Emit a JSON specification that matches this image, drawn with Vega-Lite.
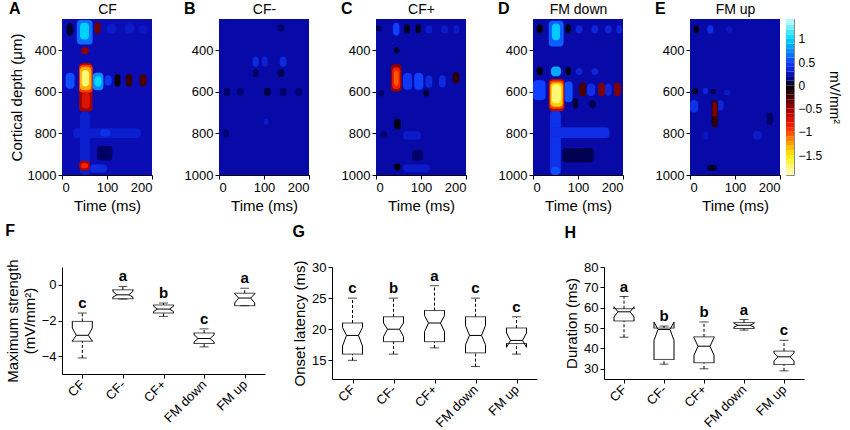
{
"$schema":"https://vega.github.io/schema/vega-lite/v6.json",
"padding":{"left":5,"top":1,"right":2,"bottom":2},
"config":{"font":"Liberation Sans","view":{"stroke":null},
"axis":{"grid":false,"domainColor":"#000","tickColor":"#000","labelColor":"#000","titleColor":"#000","labelFontSize":13,"titleFontSize":15,"titleFontWeight":"normal","tickSize":4,"labelPadding":2},
"title":{"fontSize":14,"fontWeight":"normal","color":"#000"}},
"datasets":{
"csd":[
{"p":"CF","k":"bg","t0":0,"t1":200,"d0":250,"d1":1000,"v":0.22},
{"p":"CF","k":"f","t0":10,"t1":25,"d0":270,"d1":330,"v":0.05},
{"p":"CF","k":"f","t0":33,"t1":68,"d0":255,"d1":372,"v":0.65},
{"p":"CF","k":"f","t0":40,"t1":60,"d0":268,"d1":348,"v":0.98},
{"p":"CF","k":"f","t0":72,"t1":86,"d0":265,"d1":322,"v":-0.35},
{"p":"CF","k":"f","t0":100,"t1":120,"d0":272,"d1":320,"v":0.3},
{"p":"CF","k":"f","t0":140,"t1":160,"d0":272,"d1":320,"v":0.3},
{"p":"CF","k":"f","t0":170,"t1":190,"d0":280,"d1":320,"v":0.28},
{"p":"CF","k":"f","t0":42,"t1":60,"d0":385,"d1":420,"v":-0.45},
{"p":"CF","k":"f","t0":8,"t1":28,"d0":510,"d1":585,"v":0.55},
{"p":"CF","k":"f","t0":38,"t1":68,"d0":462,"d1":695,"v":-0.5},
{"p":"CF","k":"f","t0":38,"t1":68,"d0":470,"d1":605,"v":-0.95},
{"p":"CF","k":"f","t0":40,"t1":65,"d0":480,"d1":592,"v":-1.3},
{"p":"CF","k":"f","t0":44,"t1":60,"d0":495,"d1":575,"v":-1.75},
{"p":"CF","k":"f","t0":44,"t1":62,"d0":605,"d1":680,"v":-0.75},
{"p":"CF","k":"f","t0":68,"t1":92,"d0":508,"d1":592,"v":0.75},
{"p":"CF","k":"f","t0":72,"t1":88,"d0":525,"d1":575,"v":1.0},
{"p":"CF","k":"f","t0":95,"t1":110,"d0":520,"d1":570,"v":0.45},
{"p":"CF","k":"f","t0":117,"t1":130,"d0":515,"d1":575,"v":-0.05},
{"p":"CF","k":"f","t0":142,"t1":156,"d0":515,"d1":575,"v":-0.2},
{"p":"CF","k":"f","t0":172,"t1":188,"d0":515,"d1":575,"v":-0.25},
{"p":"CF","k":"f","t0":25,"t1":175,"d0":775,"d1":822,"v":0.32},
{"p":"CF","k":"f","t0":85,"t1":108,"d0":780,"d1":815,"v":0.42},
{"p":"CF","k":"f","t0":40,"t1":62,"d0":695,"d1":1000,"v":0.32},
{"p":"CF","k":"f","t0":78,"t1":112,"d0":860,"d1":930,"v":0.1},
{"p":"CF","k":"f","t0":38,"t1":62,"d0":932,"d1":978,"v":-0.55},
{"p":"CF","k":"f","t0":42,"t1":58,"d0":942,"d1":968,"v":-0.9},
{"p":"CF","k":"f","t0":62,"t1":100,"d0":950,"d1":988,"v":0.38},
{"p":"CF-","k":"bg","t0":0,"t1":200,"d0":250,"d1":1000,"v":0.2},
{"p":"CF-","k":"f","t0":75,"t1":88,"d0":430,"d1":480,"v":0.38},
{"p":"CF-","k":"f","t0":95,"t1":108,"d0":430,"d1":480,"v":0.33},
{"p":"CF-","k":"f","t0":135,"t1":150,"d0":430,"d1":480,"v":0.38},
{"p":"CF-","k":"f","t0":75,"t1":88,"d0":490,"d1":530,"v":0.1},
{"p":"CF-","k":"f","t0":130,"t1":145,"d0":490,"d1":530,"v":0.08},
{"p":"CF-","k":"f","t0":10,"t1":25,"d0":580,"d1":620,"v":0.1},
{"p":"CF-","k":"f","t0":40,"t1":55,"d0":580,"d1":620,"v":0.12},
{"p":"CF-","k":"f","t0":100,"t1":115,"d0":580,"d1":620,"v":0.06},
{"p":"CF-","k":"f","t0":135,"t1":150,"d0":580,"d1":620,"v":0.1},
{"p":"CF-","k":"f","t0":170,"t1":185,"d0":580,"d1":620,"v":0.12},
{"p":"CF-","k":"f","t0":130,"t1":145,"d0":275,"d1":310,"v":0.1},
{"p":"CF-","k":"f","t0":8,"t1":22,"d0":780,"d1":820,"v":0.12},
{"p":"CF-","k":"f","t0":100,"t1":110,"d0":730,"d1":760,"v":0.3},
{"p":"CF+","k":"bg","t0":0,"t1":200,"d0":250,"d1":1000,"v":0.2},
{"p":"CF+","k":"f","t0":0,"t1":12,"d0":280,"d1":310,"v":0.08},
{"p":"CF+","k":"f","t0":62,"t1":75,"d0":275,"d1":320,"v":0.03},
{"p":"CF+","k":"f","t0":88,"t1":100,"d0":275,"d1":320,"v":0.03},
{"p":"CF+","k":"f","t0":38,"t1":52,"d0":268,"d1":330,"v":0.5},
{"p":"CF+","k":"f","t0":110,"t1":125,"d0":280,"d1":320,"v":0.3},
{"p":"CF+","k":"f","t0":145,"t1":160,"d0":280,"d1":320,"v":0.3},
{"p":"CF+","k":"f","t0":172,"t1":185,"d0":280,"d1":320,"v":0.3},
{"p":"CF+","k":"f","t0":40,"t1":52,"d0":385,"d1":415,"v":0.05},
{"p":"CF+","k":"f","t0":60,"t1":80,"d0":510,"d1":590,"v":0.45},
{"p":"CF+","k":"f","t0":85,"t1":105,"d0":510,"d1":590,"v":0.5},
{"p":"CF+","k":"f","t0":110,"t1":125,"d0":520,"d1":580,"v":0.38},
{"p":"CF+","k":"f","t0":140,"t1":155,"d0":520,"d1":580,"v":0.38},
{"p":"CF+","k":"f","t0":170,"t1":185,"d0":505,"d1":560,"v":-0.15},
{"p":"CF+","k":"f","t0":33,"t1":57,"d0":468,"d1":600,"v":-0.45},
{"p":"CF+","k":"f","t0":36,"t1":54,"d0":482,"d1":588,"v":-0.85},
{"p":"CF+","k":"f","t0":40,"t1":50,"d0":498,"d1":572,"v":-1.05},
{"p":"CF+","k":"f","t0":105,"t1":118,"d0":590,"d1":622,"v":0.05},
{"p":"CF+","k":"f","t0":5,"t1":18,"d0":590,"d1":622,"v":0.1},
{"p":"CF+","k":"f","t0":40,"t1":55,"d0":728,"d1":782,"v":0.02},
{"p":"CF+","k":"f","t0":10,"t1":25,"d0":790,"d1":822,"v":0.1},
{"p":"CF+","k":"f","t0":60,"t1":100,"d0":790,"d1":830,"v":0.3},
{"p":"CF+","k":"f","t0":80,"t1":105,"d0":880,"d1":930,"v":0.1},
{"p":"CF+","k":"f","t0":40,"t1":55,"d0":945,"d1":978,"v":0.0},
{"p":"CF+","k":"f","t0":60,"t1":120,"d0":950,"d1":985,"v":0.3},
{"p":"FM down","k":"bg","t0":0,"t1":200,"d0":250,"d1":1000,"v":0.2},
{"p":"FM down","k":"f","t0":8,"t1":22,"d0":275,"d1":320,"v":0.02},
{"p":"FM down","k":"f","t0":72,"t1":84,"d0":275,"d1":320,"v":0.02},
{"p":"FM down","k":"f","t0":35,"t1":68,"d0":258,"d1":382,"v":0.6},
{"p":"FM down","k":"f","t0":42,"t1":60,"d0":272,"d1":352,"v":0.95},
{"p":"FM down","k":"f","t0":95,"t1":110,"d0":280,"d1":320,"v":0.35},
{"p":"FM down","k":"f","t0":130,"t1":145,"d0":280,"d1":320,"v":0.35},
{"p":"FM down","k":"f","t0":160,"t1":175,"d0":280,"d1":320,"v":0.35},
{"p":"FM down","k":"f","t0":185,"t1":198,"d0":280,"d1":320,"v":0.35},
{"p":"FM down","k":"f","t0":8,"t1":22,"d0":480,"d1":520,"v":0.02},
{"p":"FM down","k":"f","t0":72,"t1":84,"d0":480,"d1":520,"v":0.02},
{"p":"FM down","k":"f","t0":40,"t1":62,"d0":478,"d1":525,"v":0.85},
{"p":"FM down","k":"f","t0":95,"t1":110,"d0":485,"d1":520,"v":0.35},
{"p":"FM down","k":"f","t0":130,"t1":145,"d0":485,"d1":520,"v":0.35},
{"p":"FM down","k":"f","t0":0,"t1":28,"d0":545,"d1":640,"v":0.5},
{"p":"FM down","k":"f","t0":38,"t1":62,"d0":690,"d1":1000,"v":0.42},
{"p":"FM down","k":"f","t0":38,"t1":170,"d0":770,"d1":822,"v":0.4},
{"p":"FM down","k":"f","t0":35,"t1":70,"d0":538,"d1":692,"v":-0.6},
{"p":"FM down","k":"f","t0":37,"t1":68,"d0":546,"d1":682,"v":-1.0},
{"p":"FM down","k":"f","t0":39,"t1":66,"d0":555,"d1":672,"v":-1.4},
{"p":"FM down","k":"f","t0":42,"t1":62,"d0":565,"d1":655,"v":-1.75},
{"p":"FM down","k":"f","t0":70,"t1":88,"d0":550,"d1":650,"v":0.55},
{"p":"FM down","k":"f","t0":120,"t1":138,"d0":560,"d1":620,"v":0.4},
{"p":"FM down","k":"f","t0":160,"t1":175,"d0":560,"d1":620,"v":0.35},
{"p":"FM down","k":"f","t0":102,"t1":118,"d0":555,"d1":622,"v":-0.25},
{"p":"FM down","k":"f","t0":145,"t1":160,"d0":555,"d1":622,"v":-0.4},
{"p":"FM down","k":"f","t0":180,"t1":195,"d0":555,"d1":622,"v":-0.4},
{"p":"FM down","k":"f","t0":88,"t1":100,"d0":630,"d1":680,"v":0.05},
{"p":"FM down","k":"f","t0":125,"t1":140,"d0":640,"d1":680,"v":0.08},
{"p":"FM down","k":"f","t0":65,"t1":135,"d0":870,"d1":940,"v":0.08},
{"p":"FM down","k":"f","t0":40,"t1":60,"d0":960,"d1":1000,"v":0.55},
{"p":"FM up","k":"bg","t0":0,"t1":200,"d0":250,"d1":1000,"v":0.2},
{"p":"FM up","k":"f","t0":8,"t1":20,"d0":280,"d1":320,"v":0.03},
{"p":"FM up","k":"f","t0":38,"t1":52,"d0":280,"d1":320,"v":0.4},
{"p":"FM up","k":"f","t0":80,"t1":95,"d0":285,"d1":315,"v":0.28},
{"p":"FM up","k":"f","t0":5,"t1":18,"d0":580,"d1":612,"v":0.03},
{"p":"FM up","k":"f","t0":45,"t1":58,"d0":585,"d1":612,"v":0.08},
{"p":"FM up","k":"f","t0":28,"t1":40,"d0":580,"d1":612,"v":0.35},
{"p":"FM up","k":"f","t0":75,"t1":90,"d0":590,"d1":615,"v":0.3},
{"p":"FM up","k":"f","t0":0,"t1":18,"d0":640,"d1":700,"v":0.42},
{"p":"FM up","k":"f","t0":60,"t1":75,"d0":640,"d1":690,"v":0.35},
{"p":"FM up","k":"f","t0":48,"t1":62,"d0":640,"d1":770,"v":-0.15},
{"p":"FM up","k":"f","t0":50,"t1":60,"d0":650,"d1":720,"v":-0.4},
{"p":"FM up","k":"f","t0":170,"t1":185,"d0":700,"d1":760,"v":0.1},
{"p":"FM up","k":"f","t0":38,"t1":60,"d0":950,"d1":980,"v":0.05},
{"p":"FM up","k":"f","t0":140,"t1":160,"d0":790,"d1":830,"v":0.3},
{"p":"FM up","k":"f","t0":30,"t1":40,"d0":790,"d1":830,"v":0.28}
],
"cbar":[
{"lo":-1.93,"hi":-1.8,"v":-1.86},{"lo":-1.8,"hi":-1.7,"v":-1.75},{"lo":-1.7,"hi":-1.6,"v":-1.65},{"lo":-1.6,"hi":-1.5,"v":-1.55},{"lo":-1.5,"hi":-1.4,"v":-1.45},{"lo":-1.4,"hi":-1.3,"v":-1.35},{"lo":-1.3,"hi":-1.2,"v":-1.25},{"lo":-1.2,"hi":-1.1,"v":-1.15},{"lo":-1.1,"hi":-1.0,"v":-1.05},{"lo":-1.0,"hi":-0.9,"v":-0.95},{"lo":-0.9,"hi":-0.8,"v":-0.85},{"lo":-0.8,"hi":-0.7,"v":-0.75},{"lo":-0.7,"hi":-0.6,"v":-0.65},{"lo":-0.6,"hi":-0.5,"v":-0.55},{"lo":-0.5,"hi":-0.4,"v":-0.45},{"lo":-0.4,"hi":-0.3,"v":-0.35},{"lo":-0.3,"hi":-0.2,"v":-0.25},{"lo":-0.2,"hi":-0.1,"v":-0.15},{"lo":-0.1,"hi":0,"v":-0.05},{"lo":0,"hi":0.1,"v":0.05},{"lo":0.1,"hi":0.2,"v":0.15},{"lo":0.2,"hi":0.3,"v":0.25},{"lo":0.3,"hi":0.4,"v":0.35},{"lo":0.4,"hi":0.5,"v":0.45},{"lo":0.5,"hi":0.6,"v":0.55},{"lo":0.6,"hi":0.7,"v":0.65},{"lo":0.7,"hi":0.8,"v":0.75},{"lo":0.8,"hi":0.9,"v":0.85},{"lo":0.9,"hi":1.0,"v":0.95},{"lo":1.0,"hi":1.1,"v":1.05},{"lo":1.1,"hi":1.2,"v":1.15},{"lo":1.2,"hi":1.3,"v":1.25},{"lo":1.3,"hi":1.43,"v":1.37}
],
"box":[
{"m":"F","cond":"CF","wlo":-4.1,"q1":-3.16,"nlo":-3.15,"med":-2.83,"nhi":-2.42,"q3":-2.05,"whi":-1.58,"sig":"c"},
{"m":"F","cond":"CF-","wlo":-0.8,"q1":-0.78,"nlo":-0.69,"med":-0.56,"nhi":-0.37,"q3":-0.28,"whi":-0.09,"sig":"a"},
{"m":"F","cond":"CF+","wlo":-1.77,"q1":-1.58,"nlo":-1.5,"med":-1.36,"nhi":-1.2,"q3":-1.13,"whi":-1.02,"sig":"b"},
{"m":"F","cond":"FM down","wlo":-3.48,"q1":-3.29,"nlo":-3.2,"med":-3.01,"nhi":-2.8,"q3":-2.7,"whi":-2.47,"sig":"c"},
{"m":"F","cond":"FM up","wlo":-1.17,"q1":-1.17,"nlo":-1.02,"med":-0.74,"nhi":-0.5,"q3":-0.47,"whi":-0.19,"sig":"a"},
{"m":"G","cond":"CF","wlo":15,"q1":16,"nlo":17.3,"med":19,"nhi":20.3,"q3":21,"whi":25,"sig":"c"},
{"m":"G","cond":"CF-","wlo":16,"q1":18,"nlo":18.8,"med":20,"nhi":21,"q3":22,"whi":25,"sig":"b"},
{"m":"G","cond":"CF+","wlo":17,"q1":18,"nlo":19.6,"med":21,"nhi":22.2,"q3":23,"whi":27,"sig":"a"},
{"m":"G","cond":"FM down","wlo":14,"q1":16.2,"nlo":17.5,"med":19,"nhi":20.6,"q3":22,"whi":25,"sig":"c"},
{"m":"G","cond":"FM up","wlo":16,"q1":17.7,"nlo":17.1,"med":18.2,"nhi":19.4,"q3":20.2,"whi":22,"sig":"c"},
{"m":"H","cond":"CF","wlo":45.5,"q1":53.5,"nlo":55.5,"med":58,"nhi":60.5,"q3":59.5,"whi":65.5,"sig":"a"},
{"m":"H","cond":"CF-","wlo":32.3,"q1":34.6,"nlo":44,"med":49.3,"nhi":53,"q3":50,"whi":51,"sig":"b"},
{"m":"H","cond":"CF+","wlo":30,"q1":33,"nlo":36.7,"med":41.1,"nhi":45.3,"q3":45.7,"whi":53,"sig":"b"},
{"m":"H","cond":"FM down","wlo":49,"q1":49.8,"nlo":50.5,"med":51.4,"nhi":52.3,"q3":52.7,"whi":54.2,"sig":"a"},
{"m":"H","cond":"FM up","wlo":29,"q1":32.1,"nlo":33.9,"med":35.9,"nhi":37.8,"q3":38.7,"whi":44,"sig":"c"}
]
},
"vconcat":[
{"hconcat":[
 {"hconcat":[
  {"title":{"text":"A","anchor":"start","frame":"bounds","fontWeight":"bold","fontSize":16,"offset":0,"dy":15},
   "width":90,"height":156,"data":{"name":"csd"},"transform":[{"filter":"datum.p === 'CF'"}],
   "encoding":{"x2":{"field":"t1"},
     "y":{"field":"d0","type":"quantitative","scale":{"domain":[250,1000],"reverse":true,"nice":false,"zero":false},"axis":{"values":[400,600,800,1000],"format":"d","title":"Cortical depth (μm)","titlePadding":3}},"y2":{"field":"d1"},
     "color":{"field":"v","type":"quantitative","scale":{"type":"linear","domain":[-1.93,-1.5,-1.2,-0.9,-0.5,-0.2,0,0.1,0.22,0.5,1.0,1.43],"range":["#ffffc8","#ffee00","#ff9000","#ff2000","#a00000","#3a0000","#000000","#000066","#0a0cb4","#1040ff","#00d8ff","#c8ffff"],"interpolate":"rgb","clamp":true},"legend":null}},
   "layer":[
    {"transform":[{"filter":"datum.k === 'bg'"}],"mark":{"type":"rect"},"encoding":{"x":{"field":"t0","type":"quantitative","scale":{"domain":[0,200],"nice":false},"axis":{"values":[0,100,200],"title":"Time (ms)"}}}},
    {"transform":[{"filter":"datum.k !== 'bg'"}],"mark":{"type":"rect","cornerRadius":3.5},"encoding":{"x":{"field":"t0","type":"quantitative","scale":{"domain":[0,200],"nice":false},"axis":{"orient":"top","title":"CF","labels":false,"ticks":false,"domain":false,"titlePadding":3,"titleFontSize":14}}}}],
   "resolve":{"axis":{"x":"independent"}}},
  {"title":{"text":"B","anchor":"start","frame":"bounds","fontWeight":"bold","fontSize":16,"offset":0,"dy":15},
   "width":90,"height":156,"data":{"name":"csd"},"transform":[{"filter":"datum.p === 'CF-'"}],
   "encoding":{"x2":{"field":"t1"},
     "y":{"field":"d0","type":"quantitative","scale":{"domain":[250,1000],"reverse":true,"nice":false,"zero":false},"axis":{"values":[400,600,800,1000],"format":"d","title":null}},"y2":{"field":"d1"},
     "color":{"field":"v","type":"quantitative","scale":{"type":"linear","domain":[-1.93,-1.5,-1.2,-0.9,-0.5,-0.2,0,0.1,0.22,0.5,1.0,1.43],"range":["#ffffc8","#ffee00","#ff9000","#ff2000","#a00000","#3a0000","#000000","#000066","#0a0cb4","#1040ff","#00d8ff","#c8ffff"],"interpolate":"rgb","clamp":true},"legend":null}},
   "layer":[
    {"transform":[{"filter":"datum.k === 'bg'"}],"mark":{"type":"rect"},"encoding":{"x":{"field":"t0","type":"quantitative","scale":{"domain":[0,200],"nice":false},"axis":{"values":[0,100,200],"title":"Time (ms)"}}}},
    {"transform":[{"filter":"datum.k !== 'bg'"}],"mark":{"type":"rect","cornerRadius":3.5},"encoding":{"x":{"field":"t0","type":"quantitative","scale":{"domain":[0,200],"nice":false},"axis":{"orient":"top","title":"CF-","labels":false,"ticks":false,"domain":false,"titlePadding":3,"titleFontSize":14}}}}],
   "resolve":{"axis":{"x":"independent"}}},
  {"title":{"text":"C","anchor":"start","frame":"bounds","fontWeight":"bold","fontSize":16,"offset":0,"dy":15},
   "width":90,"height":156,"data":{"name":"csd"},"transform":[{"filter":"datum.p === 'CF+'"}],
   "encoding":{"x2":{"field":"t1"},
     "y":{"field":"d0","type":"quantitative","scale":{"domain":[250,1000],"reverse":true,"nice":false,"zero":false},"axis":{"values":[400,600,800,1000],"format":"d","title":null}},"y2":{"field":"d1"},
     "color":{"field":"v","type":"quantitative","scale":{"type":"linear","domain":[-1.93,-1.5,-1.2,-0.9,-0.5,-0.2,0,0.1,0.22,0.5,1.0,1.43],"range":["#ffffc8","#ffee00","#ff9000","#ff2000","#a00000","#3a0000","#000000","#000066","#0a0cb4","#1040ff","#00d8ff","#c8ffff"],"interpolate":"rgb","clamp":true},"legend":null}},
   "layer":[
    {"transform":[{"filter":"datum.k === 'bg'"}],"mark":{"type":"rect"},"encoding":{"x":{"field":"t0","type":"quantitative","scale":{"domain":[0,200],"nice":false},"axis":{"values":[0,100,200],"title":"Time (ms)"}}}},
    {"transform":[{"filter":"datum.k !== 'bg'"}],"mark":{"type":"rect","cornerRadius":3.5},"encoding":{"x":{"field":"t0","type":"quantitative","scale":{"domain":[0,200],"nice":false},"axis":{"orient":"top","title":"CF+","labels":false,"ticks":false,"domain":false,"titlePadding":3,"titleFontSize":14}}}}],
   "resolve":{"axis":{"x":"independent"}}},
  {"title":{"text":"D","anchor":"start","frame":"bounds","fontWeight":"bold","fontSize":16,"offset":0,"dy":15},
   "width":90,"height":156,"data":{"name":"csd"},"transform":[{"filter":"datum.p === 'FM down'"}],
   "encoding":{"x2":{"field":"t1"},
     "y":{"field":"d0","type":"quantitative","scale":{"domain":[250,1000],"reverse":true,"nice":false,"zero":false},"axis":{"values":[400,600,800,1000],"format":"d","title":null}},"y2":{"field":"d1"},
     "color":{"field":"v","type":"quantitative","scale":{"type":"linear","domain":[-1.93,-1.5,-1.2,-0.9,-0.5,-0.2,0,0.1,0.22,0.5,1.0,1.43],"range":["#ffffc8","#ffee00","#ff9000","#ff2000","#a00000","#3a0000","#000000","#000066","#0a0cb4","#1040ff","#00d8ff","#c8ffff"],"interpolate":"rgb","clamp":true},"legend":null}},
   "layer":[
    {"transform":[{"filter":"datum.k === 'bg'"}],"mark":{"type":"rect"},"encoding":{"x":{"field":"t0","type":"quantitative","scale":{"domain":[0,200],"nice":false},"axis":{"values":[0,100,200],"title":"Time (ms)"}}}},
    {"transform":[{"filter":"datum.k !== 'bg'"}],"mark":{"type":"rect","cornerRadius":3.5},"encoding":{"x":{"field":"t0","type":"quantitative","scale":{"domain":[0,200],"nice":false},"axis":{"orient":"top","title":"FM down","labels":false,"ticks":false,"domain":false,"titlePadding":3,"titleFontSize":14}}}}],
   "resolve":{"axis":{"x":"independent"}}},
  {"title":{"text":"E","anchor":"start","frame":"bounds","fontWeight":"bold","fontSize":16,"offset":0,"dy":15},
   "width":90,"height":156,"data":{"name":"csd"},"transform":[{"filter":"datum.p === 'FM up'"}],
   "encoding":{"x2":{"field":"t1"},
     "y":{"field":"d0","type":"quantitative","scale":{"domain":[250,1000],"reverse":true,"nice":false,"zero":false},"axis":{"values":[400,600,800,1000],"format":"d","title":null}},"y2":{"field":"d1"},
     "color":{"field":"v","type":"quantitative","scale":{"type":"linear","domain":[-1.93,-1.5,-1.2,-0.9,-0.5,-0.2,0,0.1,0.22,0.5,1.0,1.43],"range":["#ffffc8","#ffee00","#ff9000","#ff2000","#a00000","#3a0000","#000000","#000066","#0a0cb4","#1040ff","#00d8ff","#c8ffff"],"interpolate":"rgb","clamp":true},"legend":null}},
   "layer":[
    {"transform":[{"filter":"datum.k === 'bg'"}],"mark":{"type":"rect"},"encoding":{"x":{"field":"t0","type":"quantitative","scale":{"domain":[0,200],"nice":false},"axis":{"values":[0,100,200],"title":"Time (ms)"}}}},
    {"transform":[{"filter":"datum.k !== 'bg'"}],"mark":{"type":"rect","cornerRadius":3.5},"encoding":{"x":{"field":"t0","type":"quantitative","scale":{"domain":[0,200],"nice":false},"axis":{"orient":"top","title":"FM up","labels":false,"ticks":false,"domain":false,"titlePadding":3,"titleFontSize":14}}}}],
   "resolve":{"axis":{"x":"independent"}}}
 ],"spacing":67,"bounds":"flush"},
 {"width":8,"height":156,"view":{"stroke":"#888"},"data":{"name":"cbar"},"mark":{"type":"rect"},
  "encoding":{"y":{"field":"lo","type":"quantitative","scale":{"domain":[-1.93,1.43],"nice":false,"zero":false},"axis":{"orient":"right","values":[-1.5,-1,-0.5,0,0.5,1],"format":"~g","title":"mV/mm²","tickSize":0,"domain":false,"labelPadding":4,"titlePadding":5,"labelFontSize":12,"titleFontSize":14}},"y2":{"field":"hi"},
   "color":{"field":"v","type":"quantitative","scale":{"type":"linear","domain":[-1.93,-1.5,-1.2,-0.9,-0.5,-0.2,0,0.1,0.22,0.5,1.0,1.43],"range":["#ffffc8","#ffee00","#ff9000","#ff2000","#a00000","#3a0000","#000000","#000066","#0a0cb4","#1040ff","#00d8ff","#c8ffff"],"interpolate":"rgb","clamp":true},"legend":null}}}
],"spacing":4},
{"hconcat":[
 {"title":{"text":"F","anchor":"start","frame":"bounds","fontWeight":"bold","fontSize":16,"offset":20},
  "width":203,"height":107,"data":{"name":"box"},"transform":[{"filter":"datum.m === 'F'"}],
  "encoding":{"x":{"field":"cond","type":"nominal","sort":["CF","CF-","CF+","FM down","FM up"],"scale":{"type":"point","padding":0.5},"axis":{"title":null,"labelAngle":-45,"labelAlign":"right","labelBaseline":"middle","labelFontSize":13,"labelPadding":4}}},
  "layer":[
   {"mark":{"type":"rule","strokeDash":[3,2],"color":"#000"},"encoding":{"y":{"field":"wlo","type":"quantitative","scale":{"domain":[-5,1],"nice":false,"zero":false},"axis":{"title":["Maximum strength","(mV/mm²)"],"values":[-4,-2,0]}},"y2":{"field":"q1"}}},
   {"mark":{"type":"rule","strokeDash":[3,2],"color":"#000"},"encoding":{"y":{"field":"q3","type":"quantitative","scale":{"domain":[-5,1],"nice":false,"zero":false},"axis":{"title":["Maximum strength","(mV/mm²)"],"values":[-4,-2,0]}},"y2":{"field":"whi"}}},
   {"transform":[{"fold":["wlo","whi"],"as":["s","val"]}],"mark":{"type":"tick","size":9,"thickness":1,"color":"#000"},"encoding":{"y":{"field":"val","type":"quantitative","scale":{"domain":[-5,1],"nice":false,"zero":false},"axis":{"title":["Maximum strength","(mV/mm²)"],"values":[-4,-2,0]}}}},
   {"transform":[{"fold":["q1","q3"],"as":["s","val"]}],"mark":{"type":"tick","size":21,"thickness":1,"color":"#000"},"encoding":{"y":{"field":"val","type":"quantitative","scale":{"domain":[-5,1],"nice":false,"zero":false},"axis":{"title":["Maximum strength","(mV/mm²)"],"values":[-4,-2,0]}}}},
   {"mark":{"type":"rule","xOffset":-10,"color":"#000"},"encoding":{"y":{"field":"q1","type":"quantitative","scale":{"domain":[-5,1],"nice":false,"zero":false},"axis":{"title":["Maximum strength","(mV/mm²)"],"values":[-4,-2,0]}},"y2":{"field":"nlo"}}},
   {"mark":{"type":"rule","xOffset":-10,"color":"#000"},"encoding":{"y":{"field":"nhi","type":"quantitative","scale":{"domain":[-5,1],"nice":false,"zero":false},"axis":{"title":["Maximum strength","(mV/mm²)"],"values":[-4,-2,0]}},"y2":{"field":"q3"}}},
   {"mark":{"type":"rule","xOffset":10,"color":"#000"},"encoding":{"y":{"field":"q1","type":"quantitative","scale":{"domain":[-5,1],"nice":false,"zero":false},"axis":{"title":["Maximum strength","(mV/mm²)"],"values":[-4,-2,0]}},"y2":{"field":"nlo"}}},
   {"mark":{"type":"rule","xOffset":10,"color":"#000"},"encoding":{"y":{"field":"nhi","type":"quantitative","scale":{"domain":[-5,1],"nice":false,"zero":false},"axis":{"title":["Maximum strength","(mV/mm²)"],"values":[-4,-2,0]}},"y2":{"field":"q3"}}},
   {"transform":[{"fold":["nlo","nhi"],"as":["s","val"]}],"mark":{"type":"rule","xOffset":-10,"x2Offset":-6,"color":"#000"},"encoding":{"x2":{"field":"cond"},"y":{"field":"val","type":"quantitative","scale":{"domain":[-5,1],"nice":false,"zero":false},"axis":{"title":["Maximum strength","(mV/mm²)"],"values":[-4,-2,0]}},"y2":{"field":"med"}}},
   {"transform":[{"fold":["nlo","nhi"],"as":["s","val"]}],"mark":{"type":"rule","xOffset":10,"x2Offset":6,"color":"#000"},"encoding":{"x2":{"field":"cond"},"y":{"field":"val","type":"quantitative","scale":{"domain":[-5,1],"nice":false,"zero":false},"axis":{"title":["Maximum strength","(mV/mm²)"],"values":[-4,-2,0]}},"y2":{"field":"med"}}},
   {"mark":{"type":"rule","xOffset":-6,"x2Offset":6,"color":"#000"},"encoding":{"x2":{"field":"cond"},"y":{"field":"med","type":"quantitative","scale":{"domain":[-5,1],"nice":false,"zero":false},"axis":{"title":["Maximum strength","(mV/mm²)"],"values":[-4,-2,0]}}}},
   {"mark":{"type":"text","fontWeight":"bold","fontSize":15,"dy":-5,"baseline":"alphabetic","color":"#000"},"encoding":{"text":{"field":"sig"},"y":{"field":"whi","type":"quantitative","scale":{"domain":[-5,1],"nice":false,"zero":false},"axis":{"title":["Maximum strength","(mV/mm²)"],"values":[-4,-2,0]}}}}
  ]},
 {"title":{"text":"G","anchor":"start","frame":"bounds","fontWeight":"bold","fontSize":16,"offset":20},
  "width":205,"height":112,"data":{"name":"box"},"transform":[{"filter":"datum.m === 'G'"}],
  "encoding":{"x":{"field":"cond","type":"nominal","sort":["CF","CF-","CF+","FM down","FM up"],"scale":{"type":"point","padding":0.5},"axis":{"title":null,"labelAngle":-45,"labelAlign":"right","labelBaseline":"middle","labelFontSize":13,"labelPadding":4}}},
  "layer":[
   {"mark":{"type":"rule","strokeDash":[3,2],"color":"#000"},"encoding":{"y":{"field":"wlo","type":"quantitative","scale":{"domain":[12,30],"nice":false,"zero":false},"axis":{"title":"Onset latency (ms)","values":[15,20,25,30]}},"y2":{"field":"q1"}}},
   {"mark":{"type":"rule","strokeDash":[3,2],"color":"#000"},"encoding":{"y":{"field":"q3","type":"quantitative","scale":{"domain":[12,30],"nice":false,"zero":false},"axis":{"title":"Onset latency (ms)","values":[15,20,25,30]}},"y2":{"field":"whi"}}},
   {"transform":[{"fold":["wlo","whi"],"as":["s","val"]}],"mark":{"type":"tick","size":9,"thickness":1,"color":"#000"},"encoding":{"y":{"field":"val","type":"quantitative","scale":{"domain":[12,30],"nice":false,"zero":false},"axis":{"title":"Onset latency (ms)","values":[15,20,25,30]}}}},
   {"transform":[{"fold":["q1","q3"],"as":["s","val"]}],"mark":{"type":"tick","size":21,"thickness":1,"color":"#000"},"encoding":{"y":{"field":"val","type":"quantitative","scale":{"domain":[12,30],"nice":false,"zero":false},"axis":{"title":"Onset latency (ms)","values":[15,20,25,30]}}}},
   {"mark":{"type":"rule","xOffset":-10,"color":"#000"},"encoding":{"y":{"field":"q1","type":"quantitative","scale":{"domain":[12,30],"nice":false,"zero":false},"axis":{"title":"Onset latency (ms)","values":[15,20,25,30]}},"y2":{"field":"nlo"}}},
   {"mark":{"type":"rule","xOffset":-10,"color":"#000"},"encoding":{"y":{"field":"nhi","type":"quantitative","scale":{"domain":[12,30],"nice":false,"zero":false},"axis":{"title":"Onset latency (ms)","values":[15,20,25,30]}},"y2":{"field":"q3"}}},
   {"mark":{"type":"rule","xOffset":10,"color":"#000"},"encoding":{"y":{"field":"q1","type":"quantitative","scale":{"domain":[12,30],"nice":false,"zero":false},"axis":{"title":"Onset latency (ms)","values":[15,20,25,30]}},"y2":{"field":"nlo"}}},
   {"mark":{"type":"rule","xOffset":10,"color":"#000"},"encoding":{"y":{"field":"nhi","type":"quantitative","scale":{"domain":[12,30],"nice":false,"zero":false},"axis":{"title":"Onset latency (ms)","values":[15,20,25,30]}},"y2":{"field":"q3"}}},
   {"transform":[{"fold":["nlo","nhi"],"as":["s","val"]}],"mark":{"type":"rule","xOffset":-10,"x2Offset":-6,"color":"#000"},"encoding":{"x2":{"field":"cond"},"y":{"field":"val","type":"quantitative","scale":{"domain":[12,30],"nice":false,"zero":false},"axis":{"title":"Onset latency (ms)","values":[15,20,25,30]}},"y2":{"field":"med"}}},
   {"transform":[{"fold":["nlo","nhi"],"as":["s","val"]}],"mark":{"type":"rule","xOffset":10,"x2Offset":6,"color":"#000"},"encoding":{"x2":{"field":"cond"},"y":{"field":"val","type":"quantitative","scale":{"domain":[12,30],"nice":false,"zero":false},"axis":{"title":"Onset latency (ms)","values":[15,20,25,30]}},"y2":{"field":"med"}}},
   {"mark":{"type":"rule","xOffset":-6,"x2Offset":6,"color":"#000"},"encoding":{"x2":{"field":"cond"},"y":{"field":"med","type":"quantitative","scale":{"domain":[12,30],"nice":false,"zero":false},"axis":{"title":"Onset latency (ms)","values":[15,20,25,30]}}}},
   {"mark":{"type":"text","fontWeight":"bold","fontSize":15,"dy":-5,"baseline":"alphabetic","color":"#000"},"encoding":{"text":{"field":"sig"},"y":{"field":"whi","type":"quantitative","scale":{"domain":[12,30],"nice":false,"zero":false},"axis":{"title":"Onset latency (ms)","values":[15,20,25,30]}}}}
  ]},
 {"title":{"text":"H","anchor":"start","frame":"bounds","fontWeight":"bold","fontSize":16,"offset":20},
  "width":200,"height":112,"data":{"name":"box"},"transform":[{"filter":"datum.m === 'H'"}],
  "encoding":{"x":{"field":"cond","type":"nominal","sort":["CF","CF-","CF+","FM down","FM up"],"scale":{"type":"point","padding":0.5},"axis":{"title":null,"labelAngle":-45,"labelAlign":"right","labelBaseline":"middle","labelFontSize":13,"labelPadding":4}}},
  "layer":[
   {"mark":{"type":"rule","strokeDash":[3,2],"color":"#000"},"encoding":{"y":{"field":"wlo","type":"quantitative","scale":{"domain":[25,80],"nice":false,"zero":false},"axis":{"title":"Duration (ms)","values":[30,40,50,60,70,80]}},"y2":{"field":"q1"}}},
   {"mark":{"type":"rule","strokeDash":[3,2],"color":"#000"},"encoding":{"y":{"field":"q3","type":"quantitative","scale":{"domain":[25,80],"nice":false,"zero":false},"axis":{"title":"Duration (ms)","values":[30,40,50,60,70,80]}},"y2":{"field":"whi"}}},
   {"transform":[{"fold":["wlo","whi"],"as":["s","val"]}],"mark":{"type":"tick","size":9,"thickness":1,"color":"#000"},"encoding":{"y":{"field":"val","type":"quantitative","scale":{"domain":[25,80],"nice":false,"zero":false},"axis":{"title":"Duration (ms)","values":[30,40,50,60,70,80]}}}},
   {"transform":[{"fold":["q1","q3"],"as":["s","val"]}],"mark":{"type":"tick","size":21,"thickness":1,"color":"#000"},"encoding":{"y":{"field":"val","type":"quantitative","scale":{"domain":[25,80],"nice":false,"zero":false},"axis":{"title":"Duration (ms)","values":[30,40,50,60,70,80]}}}},
   {"mark":{"type":"rule","xOffset":-10,"color":"#000"},"encoding":{"y":{"field":"q1","type":"quantitative","scale":{"domain":[25,80],"nice":false,"zero":false},"axis":{"title":"Duration (ms)","values":[30,40,50,60,70,80]}},"y2":{"field":"nlo"}}},
   {"mark":{"type":"rule","xOffset":-10,"color":"#000"},"encoding":{"y":{"field":"nhi","type":"quantitative","scale":{"domain":[25,80],"nice":false,"zero":false},"axis":{"title":"Duration (ms)","values":[30,40,50,60,70,80]}},"y2":{"field":"q3"}}},
   {"mark":{"type":"rule","xOffset":10,"color":"#000"},"encoding":{"y":{"field":"q1","type":"quantitative","scale":{"domain":[25,80],"nice":false,"zero":false},"axis":{"title":"Duration (ms)","values":[30,40,50,60,70,80]}},"y2":{"field":"nlo"}}},
   {"mark":{"type":"rule","xOffset":10,"color":"#000"},"encoding":{"y":{"field":"nhi","type":"quantitative","scale":{"domain":[25,80],"nice":false,"zero":false},"axis":{"title":"Duration (ms)","values":[30,40,50,60,70,80]}},"y2":{"field":"q3"}}},
   {"transform":[{"fold":["nlo","nhi"],"as":["s","val"]}],"mark":{"type":"rule","xOffset":-10,"x2Offset":-6,"color":"#000"},"encoding":{"x2":{"field":"cond"},"y":{"field":"val","type":"quantitative","scale":{"domain":[25,80],"nice":false,"zero":false},"axis":{"title":"Duration (ms)","values":[30,40,50,60,70,80]}},"y2":{"field":"med"}}},
   {"transform":[{"fold":["nlo","nhi"],"as":["s","val"]}],"mark":{"type":"rule","xOffset":10,"x2Offset":6,"color":"#000"},"encoding":{"x2":{"field":"cond"},"y":{"field":"val","type":"quantitative","scale":{"domain":[25,80],"nice":false,"zero":false},"axis":{"title":"Duration (ms)","values":[30,40,50,60,70,80]}},"y2":{"field":"med"}}},
   {"mark":{"type":"rule","xOffset":-6,"x2Offset":6,"color":"#000"},"encoding":{"x2":{"field":"cond"},"y":{"field":"med","type":"quantitative","scale":{"domain":[25,80],"nice":false,"zero":false},"axis":{"title":"Duration (ms)","values":[30,40,50,60,70,80]}}}},
   {"mark":{"type":"text","fontWeight":"bold","fontSize":15,"dy":-5,"baseline":"alphabetic","color":"#000"},"encoding":{"text":{"field":"sig"},"y":{"field":"whi","type":"quantitative","scale":{"domain":[25,80],"nice":false,"zero":false},"axis":{"title":"Duration (ms)","values":[30,40,50,60,70,80]}}}}
  ]}
],"spacing":67,"bounds":"flush"}
],"spacing":9}
